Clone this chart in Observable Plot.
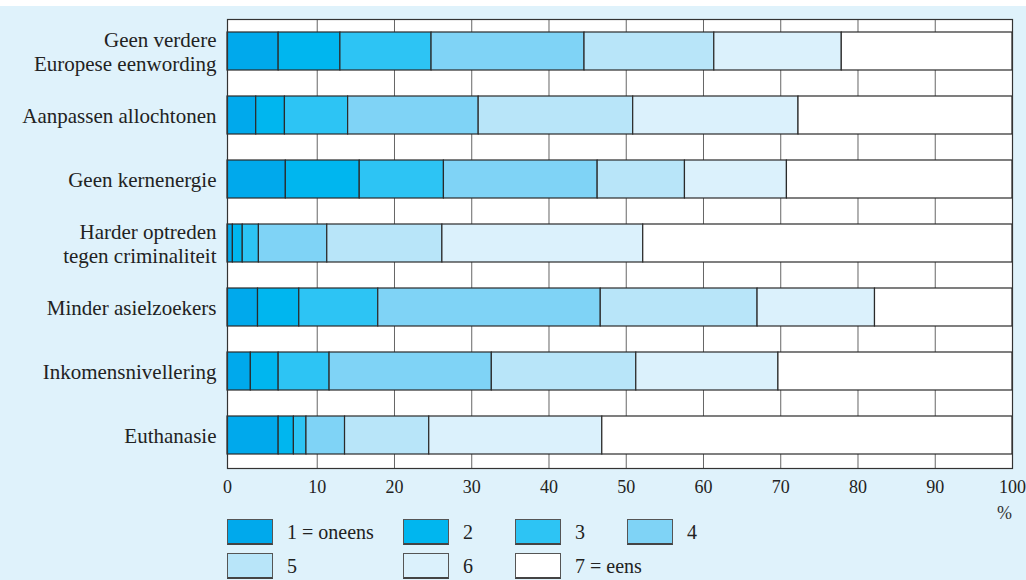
<!DOCTYPE html>
<html>
<head>
<meta charset="utf-8">
<script src="https://cdn.jsdelivr.net/npm/d3@7"></script>
<script src="https://cdn.jsdelivr.net/npm/@observablehq/plot@0.6"></script>
<style>
  html, body { margin: 0; padding: 0; }
  body { width: 1026px; height: 580px; overflow: hidden; position: relative; background: #ffffff; font-family: "Liberation Serif", serif; color: #222; }
  #panel { position: absolute; left: 0; top: 6px; width: 1026px; height: 574px; background: #dff2fb; }
  #chart { position: absolute; left: 0; top: 0; }
  #unit { position: absolute; left: 980px; width: 32px; top: 503px; text-align: right; font-size: 18px; color: #333; }
  #legend { position: absolute; left: 227px; top: 519px; display: grid; grid-template-columns: 176px 112px 112px 112px; grid-auto-rows: 26px; row-gap: 8px; }
  .item { display: flex; align-items: center; font-size: 20px; color: #222; white-space: nowrap; }
  .sw { width: 44px; height: 23px; border: 1px solid #555; border-bottom: 2px solid #444; box-sizing: content-box; margin-right: 14px; flex: none; }
</style>
</head>
<body>
<div id="panel"></div>
<div id="chart"></div>
<div id="unit">%</div>
<div id="legend"></div>
<script>
// Statements (rows of the chart)
const categories = [
  "Geen verdere\nEuropese eenwording",
  "Aanpassen allochtonen",
  "Geen kernenergie",
  "Harder optreden\ntegen criminaliteit",
  "Minder asielzoekers",
  "Inkomensnivellering",
  "Euthanasie"
];
// Answer categories (legend)
const answers = ["1 = oneens", "2", "3", "4", "5", "6", "7 = eens"];
const colors = ["#00a9ec", "#00b6ef", "#2dc4f4", "#7fd3f6", "#b8e5f9", "#dbf1fc", "#ffffff"];

// Percentage per answer, one value per statement (same order as categories)
const answer1 = [5.7, 3.2, 6.5, 0.6, 3.4, 2.6, 5.7];
const answer2 = [7.3, 3.2, 9.0, 1.1, 4.6, 3.1, 1.7];
const answer3 = [11.8, 7.6, 10.9, 1.8, 9.9, 5.9, 1.4];
const answer4 = [19.8, 16.9, 19.9, 7.8, 28.8, 21.0, 4.8];
const answer5 = [16.8, 20.0, 11.3, 14.9, 20.3, 18.7, 10.9];
const answer6 = [16.5, 21.4, 13.2, 26.0, 15.2, 18.4, 22.4];
const answer7 = [22.1, 27.7, 29.2, 47.8, 17.8, 30.3, 53.1];

const xTicks = [0, 10, 20, 30, 40, 50, 60, 70, 80, 90, 100];

const series = [answer1, answer2, answer3, answer4, answer5, answer6, answer7];
const table = [];
categories.forEach((c, i) => {
  answers.forEach((a, j) => {
    table.push({category: c, answer: a, value: series[j][i]});
  });
});

// The reference's axis has a wider first interval (0–10) than the others.
const k = 89.5 / 77.05;
const warp = (v) => (v <= 10 ? v * k : v + 10 * (k - 1));

const chart = Plot.plot({
  width: 1026,
  height: 500,
  marginLeft: 227,
  marginRight: 14,
  marginTop: 19,
  marginBottom: 32,
  style: {background: "transparent", fontFamily: "Liberation Serif, serif", color: "#222", overflow: "visible"},
  x: {transform: warp, domain: [0, warp(100)], label: null},
  y: {domain: categories, paddingInner: 0.406, paddingOuter: 0.203, align: 0.5, label: null},
  color: {domain: answers, range: colors},
  marks: [
    Plot.frame({fill: "#ffffff", stroke: null}),
    Plot.gridX(xTicks.slice(1, -1), {stroke: "#666", strokeOpacity: 1, strokeWidth: 1}),
    Plot.barX(table, Plot.stackX({
      x: "value", y: "category", fill: "answer",
      stroke: "#2a2a2a", strokeWidth: 1.2
    })),
    Plot.frame({stroke: "#333", strokeWidth: 1.2}),
    Plot.axisX(xTicks, {tickSize: 0, tickPadding: 12, fontSize: 18, label: null}),
    Plot.axisY({tickSize: 0, tickPadding: 11, fontSize: 21, lineHeight: 1.15, label: null})
  ]
});
document.getElementById("chart").appendChild(chart);

const legend = document.getElementById("legend");
answers.forEach((a, j) => {
  const item = document.createElement("div");
  item.className = "item";
  if (j === 4) item.style.gridColumn = "1";
  const sw = document.createElement("span");
  sw.className = "sw";
  sw.style.background = colors[j];
  const t = document.createElement("span");
  t.textContent = a;
  item.appendChild(sw);
  item.appendChild(t);
  legend.appendChild(item);
});
</script>
</body>
</html>
